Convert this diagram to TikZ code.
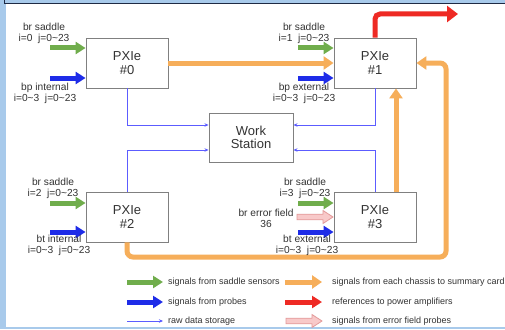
\documentclass[tikz,border=0pt]{standalone}
\usepackage{fontspec}
\setmainfont{Liberation Sans}
\usetikzlibrary{arrows.meta}

\definecolor{bgblue}{HTML}{A8CAEB}
\definecolor{framedark}{HTML}{1E2A44}
\definecolor{sigGreen}{HTML}{70AD4C}
\definecolor{sigBlue}{HTML}{1E2CE8}
\definecolor{sigOrange}{HTML}{F6AE5A}
\definecolor{sigRed}{HTML}{EE2A24}
\definecolor{pinkFill}{HTML}{F8C9C9}
\definecolor{pinkLine}{HTML}{E39A9A}
\definecolor{rawBlue}{HTML}{5C5CFF}
\definecolor{boxLine}{HTML}{808080}
\definecolor{txt}{HTML}{333333}

\tikzset{
  chassis/.style={draw=boxLine, line width=0.9pt, fill=white, minimum width=82pt,
    minimum height=50pt, align=center, inner sep=0pt, text=txt,
    font=\fontsize{13}{14}\selectfont},
  lbl/.style={align=center, inner sep=0pt, text=txt, font=\fontsize{10.2}{11}\selectfont},
  legtext/.style={anchor=west, inner sep=0pt, text=txt, font=\fontsize{9}{10}\selectfont},
  fat/.style={line width=5pt, -{Triangle[length=10pt,width=12pt]}},
  greenarrow/.style={fat, draw=sigGreen},
  bluearrow/.style={fat, draw=sigBlue},
  orangearrow/.style={line width=5pt, draw=sigOrange, -{Triangle[length=10pt,width=13pt]}},
  redarrow/.style={line width=5pt, draw=sigRed, -{Triangle[length=11pt,width=16pt]}},
  raw/.style={draw=rawBlue, line width=0.7pt, -{Stealth[length=4pt,width=3.5pt]}},
  hollow/.pic={\draw[pinkLine, fill=pinkFill, line width=0.8pt]
    (0,-2.8) -- (26,-2.8) -- (26,-6.5) -- (36,0) -- (26,6.5) -- (26,2.8) -- (0,2.8) -- cycle;}
}

\begin{document}
\begin{tikzpicture}[x=1pt,y=-1pt]
\useasboundingbox (0,0) rectangle (505,329);

% window background and panel
\fill[bgblue] (0,0) rectangle (505,329);
\fill[white] (6,4.5) rectangle (505,326.5);
\draw[framedark, line width=1pt] (4,0) -- (4,3.5) -- (505,3.5);

% chassis and work station
\node[chassis] (p0) at (127,63) {PXIe\\\#0};
\node[chassis] (p1) at (375,63) {PXIe\\\#1};
\node[chassis] (p2) at (127,217) {PXIe\\\#2};
\node[chassis] (p3) at (375,217) {PXIe\\\#3};
\node[chassis, minimum width=84pt, minimum height=49pt, font=\fontsize{13}{13}\selectfont]
  (ws) at (251,137.5) {Work\\Station};

% free ends of the input signals
\coordinate (g0) at (50,48);   \coordinate (b0) at (50,78);
\coordinate (g1) at (298,48);  \coordinate (b1) at (298,78);
\coordinate (g2) at (50,203);  \coordinate (b2) at (50,232);
\coordinate (g3) at (298,203); \coordinate (b3) at (298,232);
\coordinate (amp) at (458,14);
\coordinate (loop) at (446,257);

% input signals
\draw[greenarrow] (g0) -- (g0 -| p0.west);
\draw[bluearrow] (b0) -- (b0 -| p0.west);
\draw[greenarrow] (g1) -- (g1 -| p1.west);
\draw[bluearrow] (b1) -- (b1 -| p1.west);
\draw[greenarrow] (g2) -- (g2 -| p2.west);
\draw[bluearrow] (b2) -- (b2 -| p2.west);
\draw[greenarrow] (g3) -- (g3 -| p3.west);
\draw[bluearrow] (b3) -- (b3 -| p3.west);
\pic at (297,217) {hollow};

% chassis to summary card
\draw[orangearrow] (p0.east) -- (p1.west);
\draw[orangearrow] ([xshift=21pt]p3.north) -- ([xshift=21pt]p1.south);
\draw[orangearrow, rounded corners=6pt] (p2.south) |- (loop) |- (p1.east);

% references to power amplifiers
\draw[redarrow, rounded corners=5pt] (p1.north) |- (amp);

% raw data storage
\draw[raw] (p0.south) |- ([yshift=12.5pt]ws.west);
\draw[raw] (p2.north) |- ([yshift=-12.5pt]ws.west);
\draw[raw] (p1.south) |- ([yshift=12.5pt]ws.east);
\draw[raw] (p3.north) |- ([yshift=-12.5pt]ws.east);

% signal labels
\node[lbl] (l0a) at (44,33.5) {br saddle\\i=0\ \ j=0\textasciitilde23};
\node[lbl] (l0b) at (45,93.5) {bp internal\\i=0\textasciitilde3\ \ j=0\textasciitilde23};
\node[lbl] (l1a) at (304,33.5) {br saddle\\i=1\ \ j=0\textasciitilde23};
\node[lbl] (l1b) at (304,93.5) {bp external\\i=0\textasciitilde3\ \ j=0\textasciitilde23};
\node[lbl] (l2a) at (53,188) {br saddle\\i=2\ \ j=0\textasciitilde23};
\node[lbl] (l2b) at (59,245) {bt internal\\i=0\textasciitilde3\ \ j=0\textasciitilde23};
\node[lbl] (l3a) at (305,188) {br saddle\\i=3\ \ j=0\textasciitilde23};
\node[lbl] (l3c) at (266,218) {br error field\\36};
\node[lbl] (l3b) at (307,245) {bt external\\i=0\textasciitilde3\ \ j=0\textasciitilde23};

% legend
\coordinate (k1) at (127,282); \coordinate (k1e) at (163,282);
\coordinate (k2) at (127,302); \coordinate (k2e) at (163,302);
\coordinate (k3) at (127,321); \coordinate (k3e) at (163,321);
\coordinate (k4) at (285,282); \coordinate (k4e) at (322,282);
\coordinate (k5) at (285,302); \coordinate (k5e) at (322,302);
\draw[greenarrow] (k1) -- (k1e);
\draw[bluearrow] (k2) -- (k2e);
\draw[raw] (k3) -- (k3e);
\draw[orangearrow] (k4) -- (k4e);
\draw[fat, draw=sigRed] (k5) -- (k5e);
\pic at (286,321) {hollow};
\node[legtext] (t1) at (168,282) {signals from saddle sensors};
\node[legtext] (t2) at (168,302) {signals from probes};
\node[legtext] (t3) at (168,321) {raw data storage};
\node[legtext] (t4) at (332,282) {signals from each chassis to summary card};
\node[legtext] (t5) at (332,302) {references to power amplifiers};
\node[legtext] (t6) at (332,321) {signals from error field probes};
\end{tikzpicture}
\end{document}
